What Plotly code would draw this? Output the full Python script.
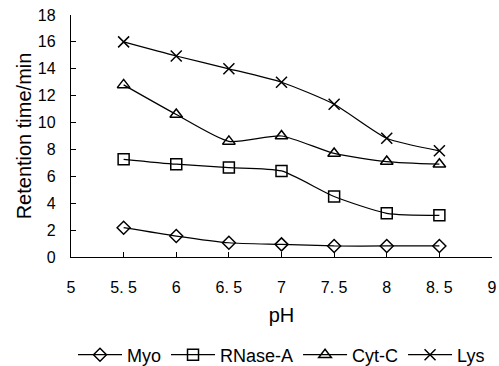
import plotly.graph_objects as go

ph = [5.5, 6, 6.5, 7, 7.5, 8, 8.5]
myo = [2.18, 1.56, 1.06, 0.94, 0.82, 0.82, 0.82]
rnase = [7.27, 6.9, 6.65, 6.4, 4.5, 3.25, 3.1]
cytc = [12.8, 10.6, 8.6, 9.0, 7.7, 7.1, 6.9]
lys = [16.0, 14.95, 14.0, 13.0, 11.36, 8.83, 7.9]

x_tickvals = [5, 5.5, 6, 6.5, 7, 7.5, 8, 8.5, 9]
x_ticktext = ["5", "5. 5", "6", "6. 5", "7", "7. 5", "8", "8. 5", "9"]

series = [
    ("Myo", myo, "diamond-open", 10),
    ("RNase-A", rnase, "square-open", 11),
    ("Cyt-C", cytc, "triangle-up-open", 11),
    ("Lys", lys, "x-thin-open", 11),
]

fig = go.Figure()
for name, vals, sym, sz in series:
    fig.add_trace(go.Scatter(
        x=ph, y=vals, name=name, mode="lines+markers",
        line=dict(color="black", width=1.25, shape="spline", smoothing=0.6),
        marker=dict(symbol=sym, size=sz, color="black",
                    line=dict(color="black", width=1.5)),
    ))

font = "Liberation Sans, Arial, sans-serif"
fig.update_layout(
    width=499, height=366,
    margin=dict(l=71, r=7, t=15, b=109, autoexpand=False),
    plot_bgcolor="white", paper_bgcolor="white",
    font=dict(family=font, color="black", size=16),
    showlegend=True,
    legend=dict(orientation="h", x=0.5, xanchor="center", y=-0.405, yanchor="middle",
                font=dict(size=18), itemwidth=44, tracegroupgap=0,
                bgcolor="rgba(0,0,0,0)"),
    xaxis=dict(range=[5, 9], tickvals=x_tickvals, ticktext=x_ticktext,
               ticks="inside", ticklen=5, tickcolor="black",
               showline=True, linecolor="black", linewidth=1.3,
               showgrid=False, zeroline=False, automargin=False,
               ticklabelstandoff=16, ticklabeloverflow="allow",
               title=dict(text="pH", font=dict(size=20), standoff=12)),
    yaxis=dict(range=[0, 18], dtick=2, tick0=0,
               ticks="inside", ticklen=5, tickcolor="black",
               showline=True, linecolor="black", linewidth=1.3,
               showgrid=False, zeroline=False, automargin=False,
               ticklabelstandoff=11, ticklabeloverflow="allow",
               title=dict(text="Retention time/min", font=dict(size=20), standoff=0)),
)
# remove the default 8px page margin so the 499x366 figure fills the window exactly
fig.write_html("out.html", config={"displayModeBar": False},
               post_script="document.body.style.margin='0';document.body.style.overflow='hidden';")
